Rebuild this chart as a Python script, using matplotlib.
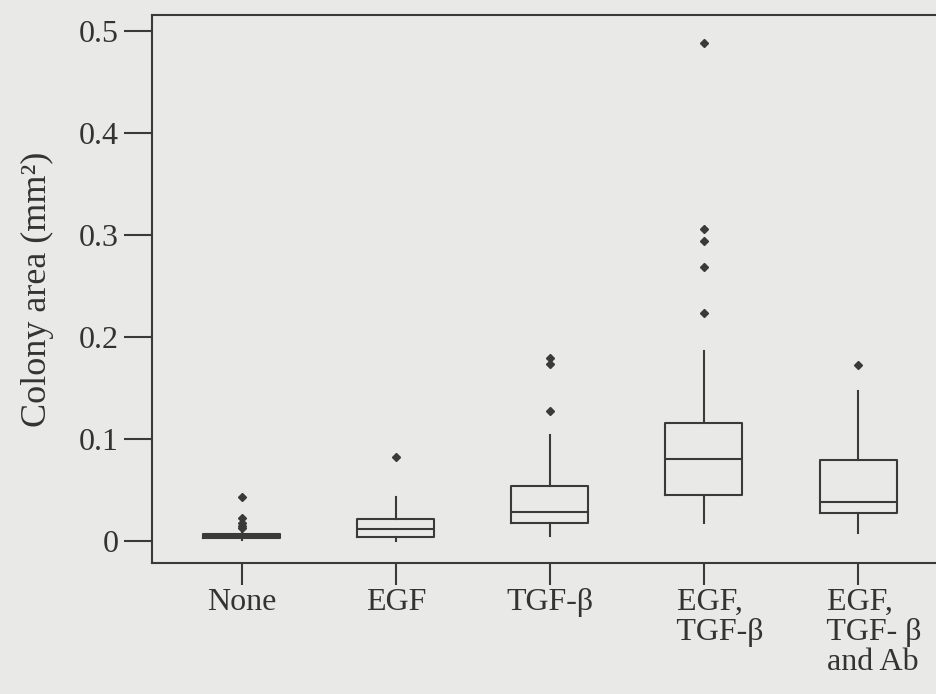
import matplotlib
matplotlib.use("Agg")
import matplotlib.pyplot as plt

# treatments on the x axis
labels = ["None", "EGF", "TGF-β", "EGF,\nTGF-β", "EGF,\nTGF- β\nand Ab"]

# box plot statistics (colony area, mm^2)
whislo = [0.001, 0.000, 0.005, 0.018, 0.008]
q1 = [0.003, 0.004, 0.018, 0.045, 0.027]
med = [0.005, 0.012, 0.028, 0.080, 0.038]
q3 = [0.007, 0.022, 0.054, 0.116, 0.079]
whishi = [0.011, 0.043, 0.104, 0.186, 0.147]
fliers = [
    [0.043, 0.0225, 0.018, 0.015, 0.013],
    [0.082],
    [0.127, 0.1735, 0.179],
    [0.2235, 0.269, 0.294, 0.306, 0.488],
    [0.1725],
]

yticks = [0, 0.1, 0.2, 0.3, 0.4, 0.5]
yticklabels = ["0", "0.1", "0.2", "0.3", "0.4", "0.5"]

bg = "#e9e9e8"
ink = "#3a3a3a"

plt.rcParams['font.family'] = ['Liberation Serif', 'DejaVu Serif']

fig = plt.figure(figsize=(9.37, 6.94), dpi=100, facecolor=bg)
ax = fig.add_axes([0.1622, 0.1888, 0.8495, 0.7896])
ax.set_facecolor(bg)

stats = []
for i in range(len(labels)):
    stats.append(dict(label=labels[i], whislo=whislo[i], q1=q1[i], med=med[i],
                      q3=q3[i], whishi=whishi[i], fliers=fliers[i]))

lp = dict(color=ink, linewidth=1.5)
ax.bxp(stats, positions=range(len(labels)), widths=0.5, showcaps=False,
       boxprops=lp, whiskerprops=lp, medianprops=lp,
       flierprops=dict(marker="D", markersize=4.5, markerfacecolor=ink,
                       markeredgecolor=ink))

ax.set_xlim(-0.584, 4.584)
ax.set_ylim(-0.0216, 0.5157)
ax.set_yticks(yticks)
ax.set_yticklabels(yticklabels)
ax.set_xticks(range(len(labels)))

# the multi-line labels sit a little right of their ticks: pad them on the left
shown = []
for lab in labels:
    if "\n" in lab:
        lab = "\n".join("    " + part for part in lab.split("\n"))
    shown.append(lab)
ax.set_xticklabels(shown, multialignment="left", linespacing=1.05)

for s in ax.spines.values():
    s.set_color(ink)
    s.set_linewidth(1.5)

ax.tick_params(axis="y", length=20, width=1.5, color=ink, labelsize=23,
               labelcolor="#333333", pad=4)
ax.tick_params(axis="x", length=16, width=1.5, color=ink, labelsize=23,
               labelcolor="#333333", pad=2)

ax.set_ylabel("Colony area (mm²)", fontsize=26, color="#333333", labelpad=18)

fig.savefig("out.png", dpi=100, facecolor=bg)
